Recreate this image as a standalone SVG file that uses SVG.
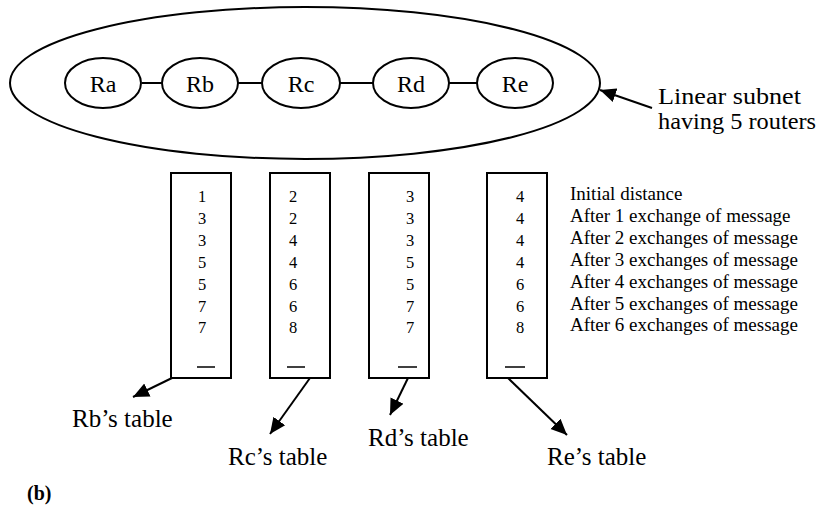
<svg xmlns="http://www.w3.org/2000/svg" width="820" height="508" viewBox="0 0 820 508">
<defs>
<marker id="ahb" viewBox="0 0 10 10" refX="10" refY="5" markerWidth="16" markerHeight="16" markerUnits="userSpaceOnUse" orient="auto">
<path d="M0,0.5 L10,5 L0,9.5 z" fill="#000"/>
</marker>
</defs>
<style>
text{font-family:"Liberation Serif","Times New Roman",serif;fill:#000}
.ln{stroke:#000;stroke-width:2;fill:none}
.rt{font-size:24px;text-anchor:middle}
.num{font-size:16.5px;text-anchor:middle}
.lbl{font-size:19px}
.tl{font-size:25px}
.sl{font-size:22.5px}
.dash{stroke:#000;stroke-width:1.5}
.arr{stroke:#000;stroke-width:2;fill:none;marker-end:url(#ahb)}
</style>
<rect width="820" height="508" fill="#fff"/>

<g id="subnet">
<ellipse class="ln" cx="305" cy="83" rx="295" ry="76"/>
</g>

<g id="connectors">
<line class="ln" x1="142" y1="83" x2="163" y2="83"/>
<line class="ln" x1="238" y1="83" x2="262" y2="83"/>
<line class="ln" x1="340" y1="83" x2="373" y2="83"/>
<line class="ln" x1="449" y1="83" x2="477" y2="83"/>
<line class="arr" x1="652" y1="108" x2="600" y2="90"/>
<line class="arr" x1="172" y1="378" x2="133" y2="397"/>
<line class="arr" x1="310" y1="378" x2="270" y2="434"/>
<line class="arr" x1="408" y1="378" x2="390" y2="415"/>
<line class="arr" x1="508" y1="378" x2="567" y2="435"/>
</g>

<g id="Ra"><ellipse class="ln" cx="103" cy="83" rx="38" ry="25"/><text class="rt" x="103" y="92">Ra</text></g>
<g id="Rb"><ellipse class="ln" cx="200" cy="83" rx="38" ry="25"/><text class="rt" x="200" y="92">Rb</text></g>
<g id="Rc"><ellipse class="ln" cx="301" cy="83" rx="39" ry="25"/><text class="rt" x="301" y="92">Rc</text></g>
<g id="Rd"><ellipse class="ln" cx="411" cy="83" rx="38" ry="25"/><text class="rt" x="411" y="92">Rd</text></g>
<g id="Re"><ellipse class="ln" cx="515" cy="83" rx="38" ry="25"/><text class="rt" x="515" y="92">Re</text></g>

<g id="subnet-label">
<text class="sl" x="658" y="104" textLength="143" lengthAdjust="spacingAndGlyphs">Linear subnet</text>
<text class="sl" x="658" y="129" textLength="158" lengthAdjust="spacingAndGlyphs">having 5 routers</text>
</g>

<g id="table-Rb">
<rect class="ln" x="171" y="173" width="60" height="205"/>
<text class="num"><tspan x="202" y="202">1</tspan><tspan x="202" y="224">3</tspan><tspan x="202" y="246">3</tspan><tspan x="202" y="268">5</tspan><tspan x="202" y="290">5</tspan><tspan x="202" y="312">7</tspan><tspan x="202" y="333">7</tspan></text>
<line class="dash" x1="197" y1="367" x2="215" y2="367"/>
</g>
<g id="table-Rc">
<rect class="ln" x="270" y="173" width="60" height="205"/>
<text class="num"><tspan x="293" y="202">2</tspan><tspan x="293" y="224">2</tspan><tspan x="293" y="246">4</tspan><tspan x="293" y="268">4</tspan><tspan x="293" y="290">6</tspan><tspan x="293" y="312">6</tspan><tspan x="293" y="333">8</tspan></text>
<line class="dash" x1="287" y1="367" x2="305" y2="367"/>
</g>
<g id="table-Rd">
<rect class="ln" x="369" y="173" width="60" height="205"/>
<text class="num"><tspan x="410" y="202">3</tspan><tspan x="410" y="224">3</tspan><tspan x="410" y="246">3</tspan><tspan x="410" y="268">5</tspan><tspan x="410" y="290">5</tspan><tspan x="410" y="312">7</tspan><tspan x="410" y="333">7</tspan></text>
<line class="dash" x1="398" y1="367" x2="417" y2="367"/>
</g>
<g id="table-Re">
<rect class="ln" x="487" y="173" width="60" height="205"/>
<text class="num"><tspan x="520" y="202">4</tspan><tspan x="520" y="224">4</tspan><tspan x="520" y="246">4</tspan><tspan x="520" y="268">4</tspan><tspan x="520" y="290">6</tspan><tspan x="520" y="312">6</tspan><tspan x="520" y="333">8</tspan></text>
<line class="dash" x1="505" y1="367" x2="525" y2="367"/>
</g>

<g id="row-labels">
<text class="lbl"><tspan x="570" y="200">Initial distance</tspan><tspan x="570" y="222">After 1 exchange of message</tspan><tspan x="570" y="244">After 2 exchanges of message</tspan><tspan x="570" y="266">After 3 exchanges of message</tspan><tspan x="570" y="288">After 4 exchanges of message</tspan><tspan x="570" y="310">After 5 exchanges of message</tspan><tspan x="570" y="331">After 6 exchanges of message</tspan></text>
</g>

<g id="table-labels">
<text class="tl" x="72" y="427">Rb’s table</text>
<text class="tl" x="228" y="465">Rc’s table</text>
<text class="tl" x="368" y="446">Rd’s table</text>
<text class="tl" x="547" y="465">Re’s table</text>
</g>

<text x="27" y="500" style="font-size:20px;font-weight:bold">(b)</text>
</svg>
